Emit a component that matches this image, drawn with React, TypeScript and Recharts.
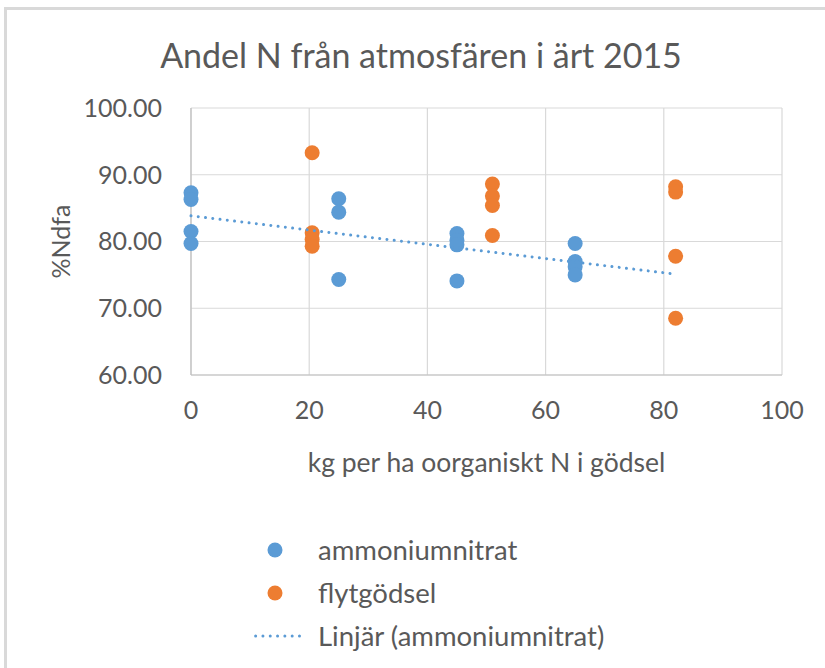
import {
  ScatterChart,
  Scatter,
  XAxis,
  YAxis,
  CartesianGrid,
  Legend,
} from "recharts";

const ammoniumX = [0, 0, 0, 0, 25, 25, 25, 45, 45, 45, 45, 65, 65, 65, 65];
const ammoniumY = [87.3, 86.3, 81.5, 79.7, 86.4, 84.4, 74.3, 81.2, 80.2, 79.5, 74.1, 79.7, 77.0, 76.2, 75.0];

const flytX = [20.5, 20.5, 20.5, 20.5, 51, 51, 51, 51, 82, 82, 82, 82];
const flytY = [93.3, 81.3, 80.3, 79.3, 88.6, 86.8, 85.4, 80.9, 88.2, 87.4, 77.8, 68.5];

const xTicks = [0, 20, 40, 60, 80, 100];
const yTicks = [60, 70, 80, 90, 100];

const seriesNames = ["ammoniumnitrat", "flytgödsel", "Linjär (ammoniumnitrat)"];

const BLUE = "#5b9bd5";
const ORANGE = "#ed7d31";
const TEXT = "#595959";
const FONT = "Lato, 'Liberation Sans', sans-serif";

const ammoniumData = ammoniumX.map((x, i) => ({ x, y: ammoniumY[i] }));
const flytData = flytX.map((x, i) => ({ x, y: flytY[i] }));

// least squares fit, like Excel's linear trendline
function linearFit(xs: number[], ys: number[]) {
  const n = xs.length;
  const mx = xs.reduce((a, b) => a + b, 0) / n;
  const my = ys.reduce((a, b) => a + b, 0) / n;
  let sxy = 0;
  let sxx = 0;
  xs.forEach((x, i) => {
    sxy += (x - mx) * (ys[i] - my);
    sxx += (x - mx) * (x - mx);
  });
  const slope = sxy / sxx;
  return { slope, intercept: my - slope * mx };
}

const fit = linearFit(ammoniumX, ammoniumY);
const trendEndX = Math.max(...ammoniumX, ...flytX);
const trendData = [0, trendEndX].map((x) => ({
  x,
  y: fit.intercept + fit.slope * x,
}));

const dot = (color: string) => (props: any) =>
  <circle cx={props.cx} cy={props.cy} r={7.5} fill={color} />;

function LegendBox() {
  const row = { display: "flex", alignItems: "center", height: 43 } as const;
  const text = { fontSize: 27.5, color: TEXT, fontFamily: FONT };
  return (
    <div>
      <div style={row}>
        <svg width={65} height={20}>
          <circle cx={22} cy={10} r={7.5} fill={BLUE} />
        </svg>
        <span style={text}>{seriesNames[0]}</span>
      </div>
      <div style={row}>
        <svg width={65} height={20}>
          <circle cx={22} cy={10} r={7.5} fill={ORANGE} />
        </svg>
        <span style={text}>{seriesNames[1]}</span>
      </div>
      <div style={row}>
        <svg width={65} height={20}>
          <line
            x1={-12}
            y1={10}
            x2={53}
            y2={10}
            stroke={BLUE}
            strokeWidth={3}
            strokeDasharray="0.01 7.3"
            strokeLinecap="round"
          />
        </svg>
        <span style={text}>{seriesNames[2]}</span>
      </div>
    </div>
  );
}

function App() {
  return (
    <div
      style={{
        position: "absolute",
        left: 0,
        top: 0,
        width: 825,
        height: 668,
        background: "#fff",
        fontFamily: FONT,
        overflow: "hidden",
      }}
    >
      <div
        style={{
          position: "absolute",
          left: 4,
          top: 7,
          width: 830,
          height: 670,
          borderTop: "3px solid #d9d9d9",
          borderLeft: "3px solid #d9d9d9",
        }}
      />
      <div
        style={{
          position: "absolute",
          left: 17,
          top: 34,
          width: 808,
          textAlign: "center",
          fontSize: 34,
          color: TEXT,
        }}
      >
        Andel N från atmosfären i ärt 2015
      </div>
      <ScatterChart
        width={825}
        height={668}
        margin={{ top: 108, right: 43, left: 0, bottom: 193 }}
        style={{ position: "absolute", left: 0, top: 0 }}
      >
        <CartesianGrid stroke="#d9d9d9" strokeWidth={1.2} />
        <XAxis
          type="number"
          dataKey="x"
          domain={[0, 100]}
          ticks={xTicks}
          height={100}
          tickLine={false}
          tickMargin={20}
          axisLine={{ stroke: "#bfbfbf", strokeWidth: 1.2 }}
          tick={{ fill: TEXT, fontSize: 25, fontFamily: FONT }}
          label={{
            value: "kg per ha oorganiskt N i gödsel",
            position: "insideBottom",
            offset: 3,
            fill: TEXT,
            fontSize: 26.5,
            fontFamily: FONT,
          }}
        />
        <YAxis
          type="number"
          dataKey="y"
          domain={[60, 100]}
          ticks={yTicks}
          width={191}
          tickLine={false}
          tickMargin={23}
          axisLine={{ stroke: "#bfbfbf", strokeWidth: 1.2 }}
          tickFormatter={(v: number) => v.toFixed(2)}
          tick={{ fill: TEXT, fontSize: 25, fontFamily: FONT }}
          label={{
            value: "%Ndfa",
            angle: -90,
            position: "insideLeft",
            offset: 61,
            fill: TEXT,
            fontSize: 25,
            fontFamily: FONT,
            style: { textAnchor: "middle" },
          }}
        />
        <Legend
          layout="vertical"
          align="center"
          verticalAlign="middle"
          content={() => <LegendBox />}
          wrapperStyle={{ top: 528, left: 253, width: 440, height: 135 }}
        />
        <Scatter
          name={seriesNames[0]}
          data={ammoniumData}
          fill={BLUE}
          shape={dot(BLUE)}
          isAnimationActive={false}
        />
        <Scatter
          name={seriesNames[1]}
          data={flytData}
          fill={ORANGE}
          shape={dot(ORANGE)}
          isAnimationActive={false}
        />
        <Scatter
          name={seriesNames[2]}
          data={trendData}
          line={{
            stroke: BLUE,
            strokeWidth: 3,
            strokeDasharray: "0.01 7.3",
            strokeLinecap: "round",
          }}
          shape={() => <g />}
          isAnimationActive={false}
        />
      </ScatterChart>
    </div>
  );
}

export default App;
